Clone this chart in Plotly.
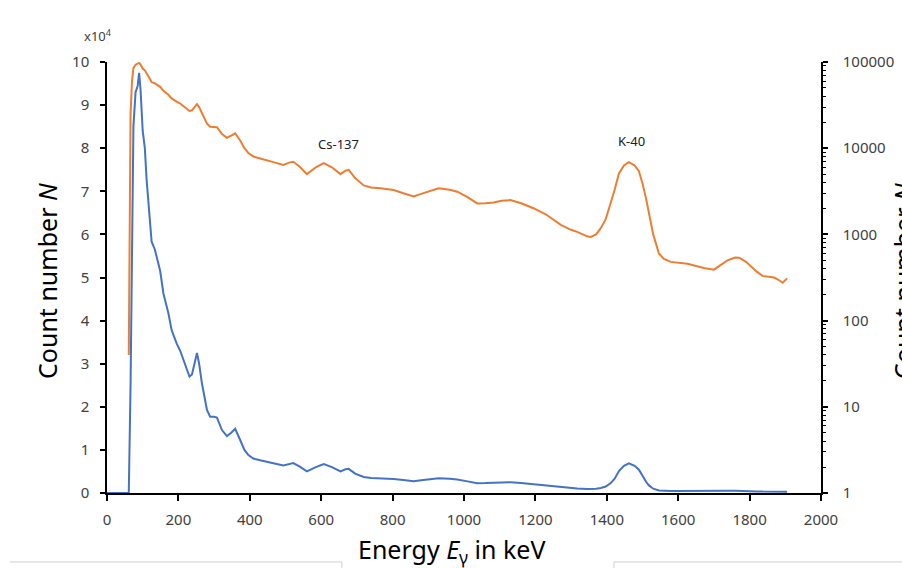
import plotly.graph_objects as go

# Gamma spectrum: energy (keV) vs count number N
energy_kev = [0, 30, 58, 61, 66, 70, 74, 80, 86, 90, 94, 100, 106, 111, 118, 125, 134,
              149, 158, 172, 181, 195, 205, 219, 231, 238, 245, 252, 258, 266, 280, 289,
              300, 308, 322, 336, 348, 359, 373, 385, 396, 410, 429, 447, 466, 494, 510,
              522, 540, 560, 585, 607, 630, 654, 668, 677, 695, 719, 740, 766, 803, 830,
              859, 880, 897, 929, 960, 981, 1010, 1037, 1060, 1083, 1105, 1130, 1160,
              1196, 1230, 1271, 1300, 1317, 1345, 1355, 1370, 1383, 1397, 1411, 1422,
              1434, 1448, 1462, 1478, 1490, 1500, 1510, 1518, 1530, 1546, 1560, 1579,
              1600, 1626, 1650, 1672, 1700, 1720, 1738, 1760, 1771, 1790, 1804, 1820,
              1836, 1855, 1869, 1885, 1893, 1905]
counts = [0, 0, 0, 40, 25000, 60000, 85000, 93000, 94500, 97500, 93500, 84000, 80000,
          72600, 66000, 58300, 56500, 51500, 46300, 41700, 37800, 34700, 33000, 29700,
          27000, 27500, 29700, 32500, 30000, 25400, 19300, 17700, 17700, 17500, 14600,
          13200, 14000, 14900, 12300, 10000, 8800, 8000, 7600, 7200, 6900, 6400, 6800,
          6950, 6100, 5000, 6000, 6700, 6000, 5000, 5500, 5600, 4500, 3700, 3500, 3430,
          3270, 3000, 2750, 2950, 3130, 3430, 3300, 3130, 2700, 2290, 2300, 2340, 2450,
          2500, 2300, 2000, 1700, 1290, 1130, 1070, 950, 935, 1000, 1180, 1500, 2300,
          3300, 5100, 6300, 6900, 6300, 5400, 3900, 2600, 1760, 1000, 600, 520, 480,
          470, 457, 430, 407, 390, 450, 500, 540, 537, 480, 420, 370, 330, 320, 316,
          290, 275, 309]

left_tick_vals = [0, 10000, 20000, 30000, 40000, 50000, 60000, 70000, 80000, 90000, 100000]
left_tick_text = ["0", "1", "2", "3", "4", "5", "6", "7", "8", "9", "10"]
right_tick_vals = [1, 10, 100, 1000, 10000, 100000]
right_tick_text = ["1", "10", "100", "1000", "10000", "100000"]

# Log-scale copy uses only positive counts
log_energy = [e for e, c in zip(energy_kev, counts) if c > 0]
log_counts = [c for c in counts if c > 0]

FONT = "Noto Sans"
TICK_FONT = dict(family=FONT, size=15, color="#404040")

fig = go.Figure()
fig.add_trace(go.Scatter(x=energy_kev, y=counts, mode="lines",
                         line=dict(color="#4472C4", width=2), yaxis="y",
                         name="linear"))
fig.add_trace(go.Scatter(x=log_energy, y=log_counts, mode="lines",
                         line=dict(color="#ED7D31", width=2), yaxis="y2",
                         name="log"))

fig.update_layout(
    width=902, height=568,
    margin=dict(l=107, r=81, t=62, b=75, autoexpand=False),
    paper_bgcolor="white", plot_bgcolor="white",
    showlegend=False,
    font=dict(family=FONT, color="#404040"),
    xaxis=dict(range=[0, 2000], tick0=0, dtick=200, ticks="outside", ticklen=6,
               tickwidth=1.5, tickcolor="black", showline=True, linecolor="black",
               linewidth=1.5, showgrid=False, zeroline=False, tickfont=TICK_FONT,
               layer="below traces", ticklabelstandoff=6, automargin=False),
    yaxis=dict(range=[0, 100000], tickvals=left_tick_vals, ticktext=left_tick_text,
               ticks="outside", ticklen=5, tickwidth=1.5, tickcolor="black",
               showline=True, linecolor="black", linewidth=1.5, showgrid=False,
               zeroline=False, tickfont=TICK_FONT, layer="below traces",
               ticklabelstandoff=8, automargin=False),
    yaxis2=dict(type="log", range=[0, 5], overlaying="y", side="right",
                tickvals=right_tick_vals, ticktext=right_tick_text,
                ticks="outside", ticklen=5, tickwidth=1.5, tickcolor="black",
                minor=dict(ticks="outside", ticklen=3, tickcolor="black", tickwidth=1,
                           dtick="D1", showgrid=False),
                showline=True, linecolor="black", linewidth=1.5, showgrid=False,
                zeroline=False, tickfont=TICK_FONT, layer="below traces",
                ticklabelstandoff=12, automargin=False),
)

ann = []
ann.append(dict(text="Energy <i>E</i><sub>γ</sub> in keV", xref="paper", yref="paper",
                x=0.483, y=-0.133, xanchor="center", yanchor="middle", showarrow=False,
                font=dict(family=FONT, size=25, color="#000000")))
ann.append(dict(text="Count number <i>N</i>", xref="paper", yref="paper",
                x=-0.084, y=0.492, xanchor="center", yanchor="middle", showarrow=False,
                textangle=-90, font=dict(family=FONT, size=25, color="#000000")))
ann.append(dict(text="Count number <i>N</i>", xref="paper", yref="paper",
                x=1.1148, y=0.492, xanchor="center", yanchor="middle", showarrow=False,
                textangle=-90, font=dict(family=FONT, size=25, color="#000000")))
ann.append(dict(text="x10<sup>4</sup>", xref="paper", yref="paper",
                x=-0.0126, y=1.0626, xanchor="center", yanchor="middle", showarrow=False,
                font=dict(family=FONT, size=13, color="#404040")))
ann.append(dict(text="Cs-137", xref="x", yref="paper", x=648, y=0.81,
                xanchor="center", yanchor="middle", showarrow=False,
                font=dict(family=FONT, size=13, color="#202020")))
ann.append(dict(text="K-40", xref="x", yref="paper", x=1470, y=0.817,
                xanchor="center", yanchor="middle", showarrow=False,
                font=dict(family=FONT, size=13, color="#202020")))
fig.update_layout(annotations=ann)

# light gray box edges at the bottom of the frame
gray = dict(color="#cfcfcf", width=1)
fig.add_shape(type="line", xref="paper", yref="paper", x0=-0.136, x1=0.329,
              y0=-0.160, y1=-0.160, line=gray)
fig.add_shape(type="line", xref="paper", yref="paper", x0=0.329, x1=0.329,
              y0=-0.160, y1=-0.185, line=gray)
fig.add_shape(type="line", xref="paper", yref="paper", x0=0.710, x1=1.2,
              y0=-0.160, y1=-0.160, line=gray)
fig.add_shape(type="line", xref="paper", yref="paper", x0=0.710, x1=0.710,
              y0=-0.160, y1=-0.185, line=gray)

fig.write_html("out.html", config={"displayModeBar": False},
               post_script="document.body.style.margin='0';document.body.style.overflow='hidden';")
